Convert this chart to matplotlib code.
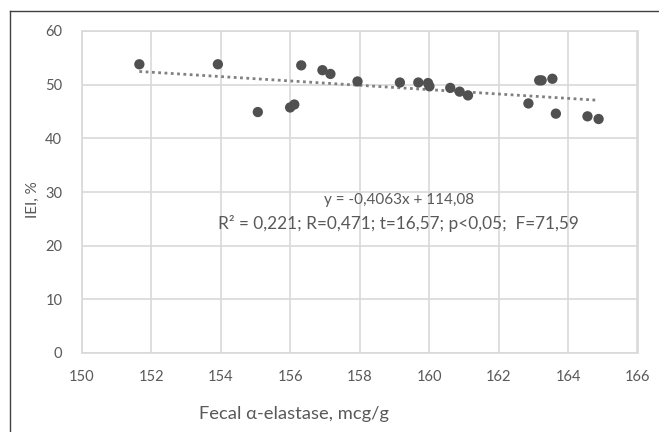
import matplotlib
matplotlib.use("Agg")
import matplotlib.pyplot as plt
from matplotlib.lines import Line2D
import numpy as np

elastase = [151.66, 153.92, 155.07, 156.00, 156.12, 156.32, 156.93, 157.16,
            157.94, 159.16, 159.69, 159.97, 160.01, 160.61, 160.88, 161.12,
            162.86, 163.17, 163.24, 163.55, 163.65, 164.56, 164.88]
iei = [53.8, 53.8, 44.9, 45.75, 46.3, 53.6, 52.7, 52.0,
       50.6, 50.4, 50.4, 50.3, 49.7, 49.4, 48.7, 48.0,
       46.5, 50.8, 50.8, 51.1, 44.6, 44.1, 43.6]
slope = -0.4063
intercept = 114.08
eq_text = "y = -0,4063x + 114,08"
stats_text = "R² = 0,221; R=0,471; t=16,57; p<0,05;  F=71,59"
x_ticks = [150, 152, 154, 156, 158, 160, 162, 164, 166]
y_ticks = [0, 10, 20, 30, 40, 50, 60]
x_label = "Fecal α-elastase, mcg/g"
y_label = "IEI, %"

W, H = 659, 432
fig = plt.figure(figsize=(W / 100, H / 100), dpi=100)
plt.rcParams['font.family'] = ['Lato', 'DejaVu Sans']

L, R, T, B = 81.7, 637.5, 31, 353
ax = fig.add_axes([L / W, 1 - B / H, (R - L) / W, (B - T) / H])
ax.set_xlim(150, 166)
ax.set_ylim(0, 60)
ax.set_xticks(x_ticks)
ax.set_yticks(y_ticks)
grid_c = "#d9d9d9"
ax.grid(True, color=grid_c, linewidth=1.2)
ax.set_axisbelow(True)
for s in ax.spines.values():
    s.set_color(grid_c)
    s.set_linewidth(1.2)
ax.tick_params(length=0, labelsize=10.5, labelcolor="#595959")
ax.tick_params(axis='x', pad=12)
ax.tick_params(axis='y', pad=14)

# trendline
xs = np.array([min(elastase), max(elastase)])
ax.plot(xs, slope * xs + intercept, linestyle=(0, (1.0, 1.27)), color="#808080",
        linewidth=2.0, dash_capstyle='butt', zorder=2)

ax.scatter(elastase, iei, s=55, color="#505050", edgecolors='none', zorder=3)

ax.text(399.5 / W, 1 - 200 / H, eq_text, transform=fig.transFigure, ha='center', va='center',
        fontsize=11, color="#595959")
ax.text(218 / W, 1 - 223 / H, stats_text, transform=fig.transFigure, ha='left', va='center',
        fontsize=12.4, color="#595959")

fig.text(293.5 / W, 1 - 414 / H, x_label, ha='center', va='center', fontsize=13.2, color="#595959")
fig.text(33 / W, 1 - 200 / H, y_label, ha='center', va='center', rotation=90, fontsize=11,
         color="#595959")

# outer frame
fc = "#404040"
fig.add_artist(Line2D([10 / W, 10 / W], [1 - 11 / H, 0], transform=fig.transFigure, color=fc, linewidth=1))
fig.add_artist(Line2D([10 / W, 1], [1 - 11 / H, 1 - 11 / H], transform=fig.transFigure, color=fc, linewidth=1))

fig.savefig("out.png", dpi=100)
